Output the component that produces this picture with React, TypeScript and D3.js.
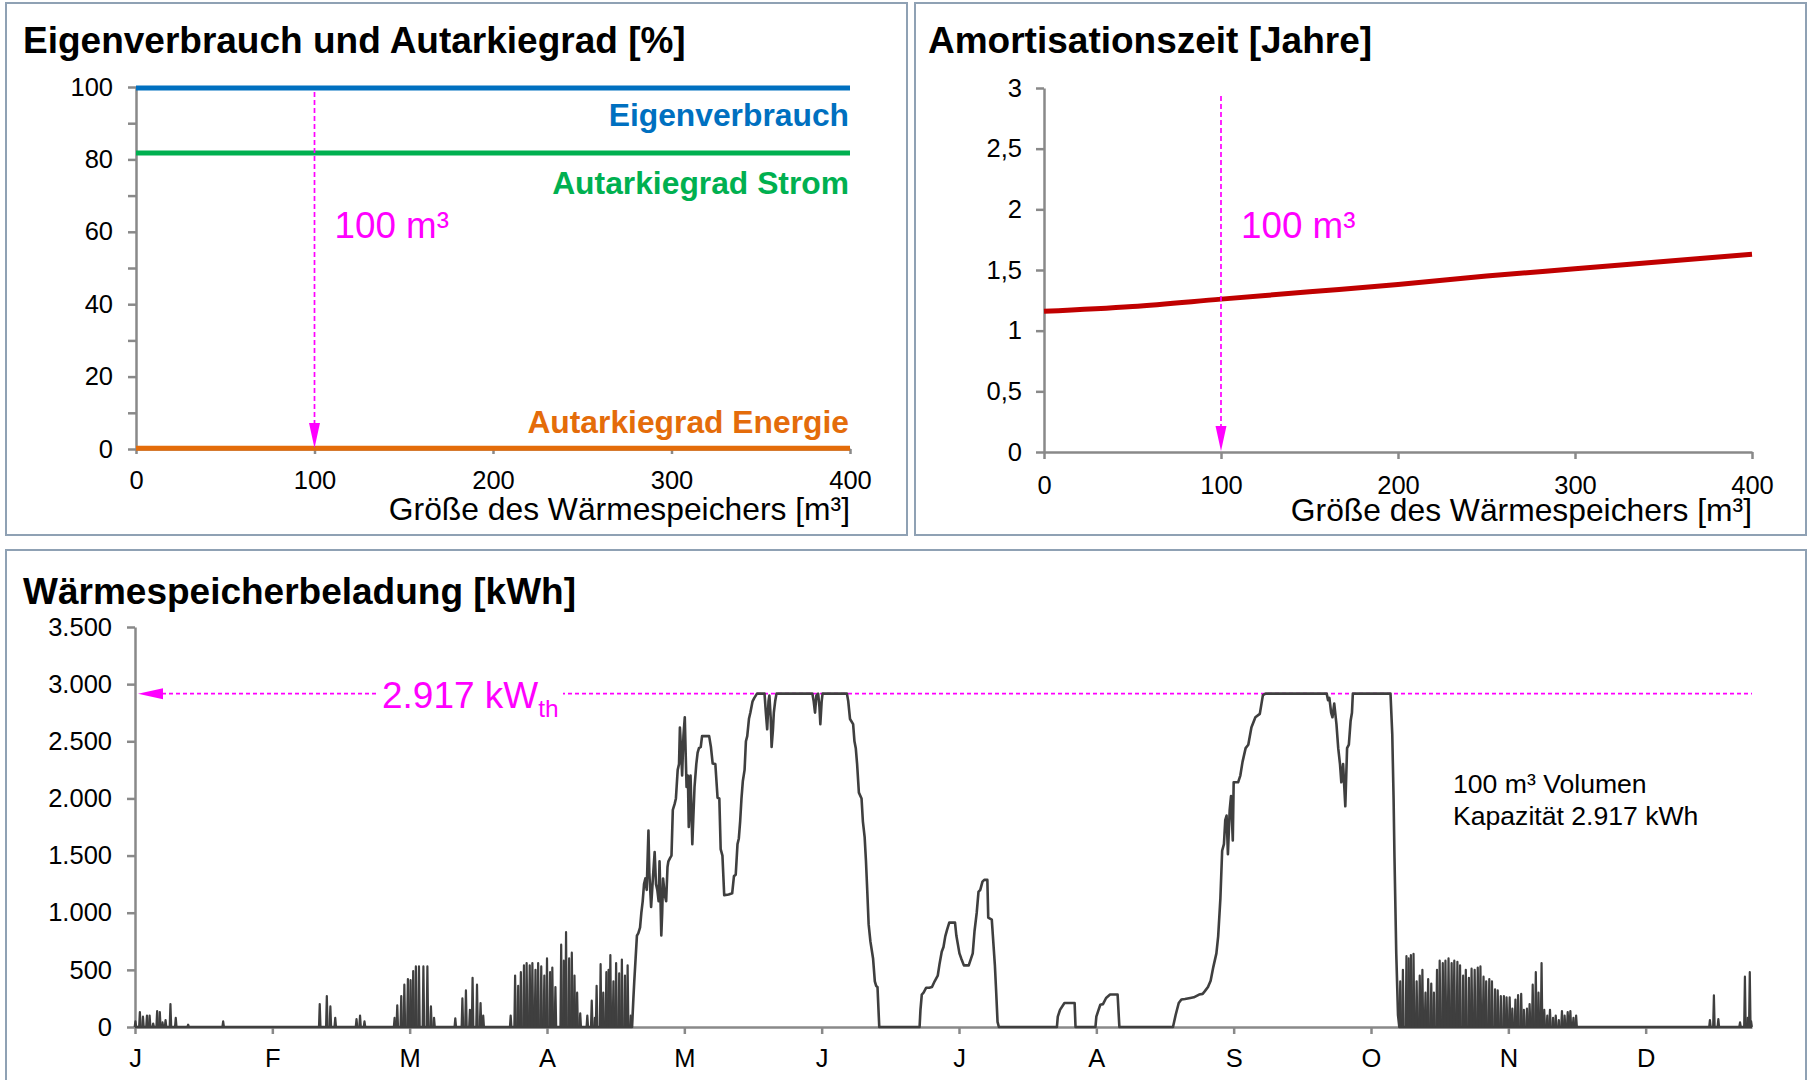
import { useEffect, useRef } from "react";
import * as d3 from "d3";

// storage sizes [m³] and results per size
const sizes = [0, 50, 100, 150, 200, 250, 300, 350, 400];
const eigenverbrauch = [99.7, 99.7, 99.7, 99.7, 99.7, 99.7, 99.7, 99.7, 99.7];
const autarkieStrom = [81.8, 81.8, 81.8, 81.8, 81.8, 81.8, 81.8, 81.8, 81.8];
const autarkieEnergie = [0.2, 0.2, 0.2, 0.2, 0.2, 0.2, 0.2, 0.2, 0.2];
const amortisation = [1.16, 1.2, 1.26, 1.32, 1.38, 1.45, 1.51, 1.57, 1.63];

const chosenSize = 100;
const capacityKWh = 2917;

const monthLabels = ["J", "F", "M", "A", "M", "J", "J", "A", "S", "O", "N", "D"];
const monthTickDays = [0, 31, 62, 93, 124, 155, 186, 217, 248, 279, 310, 341];

// storage charge over the year: [day, kWh], continuous parts
const chargeProfile: [number, number][] = [
  [0, 0], [112.2, 0], [112.5, 250], [112.7, 400], [113.0, 600], [113.3, 800], [113.6, 820],
  [114.0, 870], [114.3, 1000], [114.6, 1100], [114.9, 1250], [115.2, 1300], [115.5, 1200],
  [115.9, 1720], [116.1, 1350], [116.5, 1050], [116.9, 1300], [117.3, 1530], [117.6, 1250],
  [117.9, 1200], [118.2, 1100], [118.4, 1450], [118.6, 1150], [118.8, 800], [119.0, 1000],
  [119.2, 1300], [119.6, 1150], [119.9, 1100], [120.2, 1400], [120.4, 1450], [120.8, 1480],
  [121.1, 1500], [121.4, 1900], [121.8, 1950], [122.1, 2000], [122.5, 2250], [122.8, 2300],
  [123.0, 2620], [123.3, 2400], [123.5, 2200], [123.8, 2550], [124.1, 2710], [124.3, 2400],
  [124.5, 2100], [124.8, 2200], [125.0, 1750], [125.2, 1900], [125.4, 2200], [125.6, 1900],
  [125.8, 1600], [126.0, 1800], [126.3, 2100], [126.7, 2300], [127.0, 2400], [127.3, 2440],
  [127.7, 2450], [128.0, 2545], [129.6, 2545], [130.0, 2450], [130.4, 2305], [131.0, 2300],
  [131.5, 2006], [131.9, 2000], [132.2, 1557], [132.6, 1500], [133.0, 1153], [134.0, 1160],
  [134.8, 1170], [135.2, 1320], [135.6, 1332], [136.0, 1600], [136.3, 1650], [136.6, 1800],
  [136.9, 2000], [137.2, 2150], [137.6, 2250], [137.9, 2500], [138.2, 2545], [138.6, 2700],
  [138.9, 2750], [139.4, 2850], [139.8, 2880], [140.4, 2917], [142.1, 2917], [142.4, 2750],
  [142.7, 2605], [143.0, 2850], [143.2, 2900], [143.5, 2700], [143.7, 2450], [144.0, 2600],
  [144.2, 2750], [144.5, 2850], [144.8, 2917], [152.9, 2917], [153.2, 2850], [153.5, 2750],
  [153.8, 2900], [154.2, 2917], [154.5, 2800], [154.7, 2650], [155.0, 2850], [155.2, 2917],
  [160.7, 2917], [161.0, 2850], [161.4, 2695], [162.1, 2650], [162.4, 2500], [162.7, 2440],
  [163.0, 2300], [163.4, 2051], [164.0, 2000], [164.3, 1800], [164.7, 1661], [165.0, 1450],
  [165.3, 1183], [165.6, 900], [166.0, 749], [166.6, 600], [167.0, 400], [167.3, 359],
  [167.6, 350], [168.0, 0],
  [177.1, 0], [177.3, 150], [177.6, 284], [178.0, 300], [178.6, 344], [179.3, 344], [179.9, 350],
  [180.5, 400], [181.2, 449], [181.6, 550], [182.1, 659], [182.5, 700], [182.9, 793], [183.3, 850],
  [183.8, 913], [185.1, 913], [185.4, 800], [186.1, 644], [186.5, 600], [187.1, 539], [188.2, 539],
  [189.1, 644], [189.5, 838], [190.0, 1000], [190.4, 1183], [190.8, 1200], [191.3, 1272],
  [191.7, 1287], [192.4, 1287], [192.6, 958], [193.4, 940], [194.1, 539], [194.4, 300],
  [194.7, 45], [195.0, 0],
  [208.1, 0], [208.3, 90], [208.8, 150], [209.8, 210], [212.1, 210], [212.3, 0],
  [216.8, 0], [217.0, 90], [217.5, 150], [217.9, 195], [218.5, 200], [219.2, 254], [220.1, 284],
  [221.8, 284], [222.2, 0],
  [234.3, 0], [234.9, 105], [235.6, 210], [236.2, 240], [237.0, 245], [238.2, 254], [239.0, 260],
  [240.2, 284], [241.0, 290], [241.5, 314], [242.2, 350], [242.8, 404], [243.4, 524], [244.1, 644],
  [244.5, 793], [245.0, 1123], [245.4, 1542], [245.8, 1600], [246.1, 1811], [246.4, 1850],
  [246.7, 1512], [247.1, 1900], [247.4, 2021], [247.8, 1632], [248.0, 2141], [249.0, 2141],
  [249.5, 2200], [250.0, 2320], [250.7, 2440], [251.3, 2470], [252.0, 2620], [252.9, 2710],
  [253.9, 2740], [254.6, 2904], [255.2, 2917], [269.0, 2917], [269.3, 2860], [269.6, 2880],
  [270.0, 2750], [270.3, 2710], [270.7, 2830], [271.2, 2650], [271.6, 2440], [272.0, 2300],
  [272.3, 2141], [272.7, 2300], [273.2, 1931], [273.6, 2440], [274.0, 2470], [274.4, 2680],
  [274.7, 2750], [274.9, 2917], [283.4, 2917], [283.8, 2560], [284.1, 1991], [284.3, 1482],
  [284.7, 644], [285.1, 105], [285.4, 0],
  [365, 0],
];

// short daily charge peaks: [day, kWh]
const chargeSpikes: [number, number][] = [
  [0.1, 50], [1.1, 130], [1.8, 90], [2.7, 100], [3.3, 100], [4.1, 30], [5.0, 140], [5.6, 130],
  [6.2, 40], [6.9, 60], [8.0, 200], [9.2, 80], [12.0, 20], [19.9, 50],
  [41.7, 200], [43.3, 270], [44.1, 180], [45.2, 80], [50.0, 70], [50.8, 100], [51.8, 50],
  [58.6, 80], [59.2, 190], [60.1, 270], [60.8, 370], [61.6, 420], [62.2, 410], [62.8, 490],
  [63.4, 530], [64.1, 530], [65.1, 530], [66.0, 530], [66.8, 180], [67.5, 80],
  [72.3, 75], [73.9, 250], [74.7, 320], [75.6, 150], [76.2, 430], [77.2, 370], [78.0, 210], [78.6, 100],
  [84.8, 100], [85.8, 450], [86.5, 360], [87.1, 480], [87.8, 540], [88.4, 560], [89.1, 540],
  [89.7, 560], [90.4, 500], [91.0, 560], [91.7, 530], [92.4, 450], [93.0, 600], [93.7, 480],
  [94.2, 520], [94.9, 350], [96.2, 720], [96.8, 580], [97.3, 830], [98.0, 600], [98.6, 650],
  [99.2, 450], [99.8, 300], [100.5, 120],
  [102.1, 100], [103.1, 230], [103.8, 80], [104.2, 360], [105.1, 550], [105.7, 300], [106.4, 480],
  [106.9, 500], [107.3, 630], [108.0, 400], [108.6, 560], [109.3, 470], [109.9, 590], [110.6, 450],
  [111.2, 540], [111.9, 100],
  [285.6, 400], [286.2, 500], [287.0, 620], [287.5, 600], [288.0, 630], [288.6, 640], [289.3, 400],
  [290.0, 450], [290.6, 500], [291.3, 300], [291.9, 420], [292.6, 380], [293.2, 300], [293.9, 500],
  [294.5, 580], [295.2, 560], [295.8, 580], [296.5, 600], [297.2, 560], [297.8, 580], [298.5, 570],
  [299.1, 540], [299.8, 450], [300.4, 500], [301.1, 430], [301.7, 510], [302.4, 500], [303.1, 520],
  [303.7, 530], [304.4, 440], [305.0, 400], [305.7, 420], [306.3, 400], [307.0, 330], [307.6, 320],
  [308.3, 270], [309.0, 270], [309.6, 260], [310.3, 260], [310.9, 160], [311.6, 240], [312.2, 280],
  [312.9, 290], [313.5, 150], [314.2, 160], [314.8, 200], [315.5, 370], [316.2, 480], [316.8, 300],
  [317.5, 560], [318.1, 150], [318.8, 100], [319.4, 150], [320.1, 80], [320.7, 100], [321.4, 60],
  [322.1, 140], [322.7, 100], [323.4, 130], [324.0, 140], [324.7, 80], [325.3, 100],
  [355.5, 60], [356.4, 277], [357.4, 70], [362.3, 40], [363.4, 440], [364.0, 80], [364.5, 480], [364.8, 50],
];

const FONT = "'Liberation Sans', Arial, sans-serif";
const AXIS = "#898989";
const BORDER = "#8fa1b4";
const MAGENTA = "#ff00ff";
const LINE = "#3f3f3f";
const de = d3.formatLocale({ decimal: ",", thousands: ".", grouping: [3], currency: ["", " €"] });

function styleAxis(g: any) {
  g.attr("font-family", FONT).attr("font-size", 25.5);
  g.select(".domain").attr("stroke", AXIS).attr("stroke-width", 2.5);
  g.selectAll(".tick line").attr("stroke", AXIS).attr("stroke-width", 2.5);
  g.selectAll(".tick text").attr("fill", "#000");
}

export default function App() {
  const ref = useRef<SVGSVGElement | null>(null);

  useEffect(() => {
    if (!ref.current) return;
    const svg = d3.select(ref.current);
    svg.selectAll("*").remove();

    // panel frames
    const frames = [
      [6, 3, 901, 532],
      [915, 3, 891, 532],
      [6, 550, 1800, 540],
    ];
    svg.selectAll("rect.frame")
      .data(frames)
      .enter()
      .append("rect")
      .attr("x", d => d[0])
      .attr("y", d => d[1])
      .attr("width", d => d[2])
      .attr("height", d => d[3])
      .attr("fill", "white")
      .attr("stroke", BORDER)
      .attr("stroke-width", 2);

    const title = (x: number, y: number, t: string) =>
      svg.append("text")
        .attr("x", x)
        .attr("y", y)
        .attr("font-family", FONT)
        .attr("font-weight", "bold")
        .attr("font-size", 37)
        .attr("fill", "#000")
        .text(t);

    const downArrow = (x: number, yTop: number, yBottom: number) => {
      svg.append("line")
        .attr("x1", x).attr("x2", x)
        .attr("y1", yTop).attr("y2", yBottom - 24)
        .attr("stroke", MAGENTA)
        .attr("stroke-width", 1.7)
        .attr("stroke-dasharray", "5 3");
      svg.append("path")
        .attr("d", `M${x - 5.5},${yBottom - 26}L${x + 5.5},${yBottom - 26}L${x},${yBottom - 1}Z`)
        .attr("fill", MAGENTA);
    };

    // ---------- Chart 1: Eigenverbrauch und Autarkiegrad ----------
    title(23, 53, "Eigenverbrauch und Autarkiegrad [%]");
    const x1 = d3.scaleLinear().domain([0, 400]).range([136, 850]);
    const y1 = d3.scaleLinear().domain([0, 100]).range([449, 87]);

    styleAxis(svg.append("g")
      .attr("transform", `translate(0,${y1(0)})`)
      .call(d3.axisBottom(x1).tickValues([0, 100, 200, 300, 400]).tickSize(5).tickPadding(17).tickSizeOuter(0)));
    styleAxis(svg.append("g")
      .attr("transform", `translate(${x1(0)},0)`)
      .call(d3.axisLeft(y1).tickValues(d3.range(0, 101, 10)).tickSize(8).tickPadding(15).tickSizeOuter(0)
        .tickFormat(d => (+d % 20 === 0 ? String(d) : ""))));

    const series1 = [
      { name: "Eigenverbrauch", values: eigenverbrauch, color: "#0070c0", dy: 38 },
      { name: "Autarkiegrad Strom", values: autarkieStrom, color: "#00b050", dy: 41 },
      { name: "Autarkiegrad Energie", values: autarkieEnergie, color: "#e46c0a", dy: -15 },
    ];
    const line1 = d3.line<number>().x((_, i) => x1(sizes[i])).y(d => y1(d));
    series1.forEach(s => {
      svg.append("path")
        .attr("d", line1(s.values))
        .attr("fill", "none")
        .attr("stroke", s.color)
        .attr("stroke-width", 5);
      svg.append("text")
        .attr("x", x1(400) - 1)
        .attr("y", y1(s.values[s.values.length - 1]) + s.dy)
        .attr("text-anchor", "end")
        .attr("font-family", FONT)
        .attr("font-weight", "bold")
        .attr("font-size", 31.8)
        .attr("fill", s.color)
        .text(s.name);
    });

    downArrow(x1(chosenSize), 92, y1(0));
    svg.append("text")
      .attr("x", x1(chosenSize) + 20)
      .attr("y", 238)
      .attr("font-family", FONT)
      .attr("font-size", 36.8)
      .attr("fill", MAGENTA)
      .text("100 m³");

    svg.append("text")
      .attr("x", x1(400))
      .attr("y", 520)
      .attr("text-anchor", "end")
      .attr("font-family", FONT)
      .attr("font-size", 31.8)
      .attr("fill", "#000")
      .text("Größe des Wärmespeichers [m³]");

    // ---------- Chart 2: Amortisationszeit ----------
    title(928, 53, "Amortisationszeit [Jahre]");
    const x2 = d3.scaleLinear().domain([0, 400]).range([1044, 1752]);
    const y2 = d3.scaleLinear().domain([0, 3]).range([452, 88]);

    styleAxis(svg.append("g")
      .attr("transform", `translate(0,${y2(0)})`)
      .call(d3.axisBottom(x2).tickValues([0, 100, 200, 300, 400]).tickSize(7).tickPadding(17).tickSizeOuter(0)));
    styleAxis(svg.append("g")
      .attr("transform", `translate(${x2(0)},0)`)
      .call(d3.axisLeft(y2).tickValues(d3.range(0, 3.01, 0.5)).tickSize(8).tickPadding(14).tickSizeOuter(0)
        .tickFormat(d => de.format("~g")(+d))));

    svg.append("path")
      .attr("d", d3.line<number>().x((_, i) => x2(sizes[i])).y(d => y2(d)).curve(d3.curveMonotoneX)(amortisation))
      .attr("fill", "none")
      .attr("stroke", "#c00000")
      .attr("stroke-width", 5);

    downArrow(x2(chosenSize), 96, y2(0));
    svg.append("text")
      .attr("x", x2(chosenSize) + 20)
      .attr("y", 238)
      .attr("font-family", FONT)
      .attr("font-size", 36.8)
      .attr("fill", MAGENTA)
      .text("100 m³");

    svg.append("text")
      .attr("x", x2(400))
      .attr("y", 521)
      .attr("text-anchor", "end")
      .attr("font-family", FONT)
      .attr("font-size", 31.8)
      .attr("fill", "#000")
      .text("Größe des Wärmespeichers [m³]");

    // ---------- Chart 3: Wärmespeicherbeladung ----------
    title(23, 604, "Wärmespeicherbeladung [kWh]");
    const x3 = d3.scaleLinear().domain([0, 365]).range([135, 1752]);
    const y3 = d3.scaleLinear().domain([0, 3500]).range([1027, 627]);

    styleAxis(svg.append("g")
      .attr("transform", `translate(0,${y3(0)})`)
      .call(d3.axisBottom(x3).tickValues(monthTickDays).tickSize(7).tickPadding(15).tickSizeOuter(0)
        .tickFormat((_, i) => monthLabels[i])));
    styleAxis(svg.append("g")
      .attr("transform", `translate(${x3(0)},0)`)
      .call(d3.axisLeft(y3).tickValues(d3.range(0, 3501, 500)).tickSize(8).tickPadding(15).tickSizeOuter(0)
        .tickFormat(d => de.format(",")(+d))));

    // capacity line with label
    const yCap = y3(capacityKWh);
    svg.append("line")
      .attr("x1", x3(0) + 20).attr("x2", x3(365))
      .attr("y1", yCap).attr("y2", yCap)
      .attr("stroke", MAGENTA)
      .attr("stroke-width", 1.7)
      .attr("stroke-dasharray", "4 3");
    svg.append("path")
      .attr("d", `M${x3(0) + 3},${yCap}L${x3(0) + 28},${yCap - 5.5}L${x3(0) + 28},${yCap + 5.5}Z`)
      .attr("fill", MAGENTA);
    svg.append("rect")
      .attr("x", 377).attr("y", yCap - 4)
      .attr("width", 186).attr("height", 8)
      .attr("fill", "white");
    const capLabel = svg.append("text")
      .attr("x", 382)
      .attr("y", yCap + 14)
      .attr("font-family", FONT)
      .attr("font-size", 37)
      .attr("fill", MAGENTA);
    capLabel.append("tspan").text(de.format(",")(capacityKWh) + " kW");
    capLabel.append("tspan").attr("font-size", 24.5).attr("dy", 9).text("th");

    const line3 = d3.line<[number, number]>().x(d => x3(d[0])).y(d => y3(d[1]));
    svg.append("path")
      .attr("d", line3(chargeProfile))
      .attr("fill", "none")
      .attr("stroke", LINE)
      .attr("stroke-width", 2.6)
      .attr("stroke-linejoin", "round");

    const spikeHalf = 0.17;
    svg.append("g")
      .selectAll("path")
      .data(chargeSpikes)
      .enter()
      .append("path")
      .attr("d", d => line3([[d[0] - spikeHalf, 0], [d[0], d[1]], [d[0] + spikeHalf, 0]]))
      .attr("fill", LINE)
      .attr("stroke", LINE)
      .attr("stroke-width", 2.2)
      .attr("stroke-linejoin", "round");

    svg.append("text")
      .attr("x", 1453)
      .attr("y", 793)
      .attr("font-family", FONT)
      .attr("font-size", 26.6)
      .attr("fill", "#000")
      .text("100 m³ Volumen");
    svg.append("text")
      .attr("x", 1453)
      .attr("y", 825)
      .attr("font-family", FONT)
      .attr("font-size", 26.6)
      .attr("fill", "#000")
      .text("Kapazität " + de.format(",")(capacityKWh) + " kWh");
  }, []);

  return (
    <div style={{ position: "fixed", left: 0, top: 0, width: 1810, height: 1080, background: "#fff" }}>
      <svg ref={ref} width={1810} height={1080} style={{ display: "block" }} />
    </div>
  );
}
